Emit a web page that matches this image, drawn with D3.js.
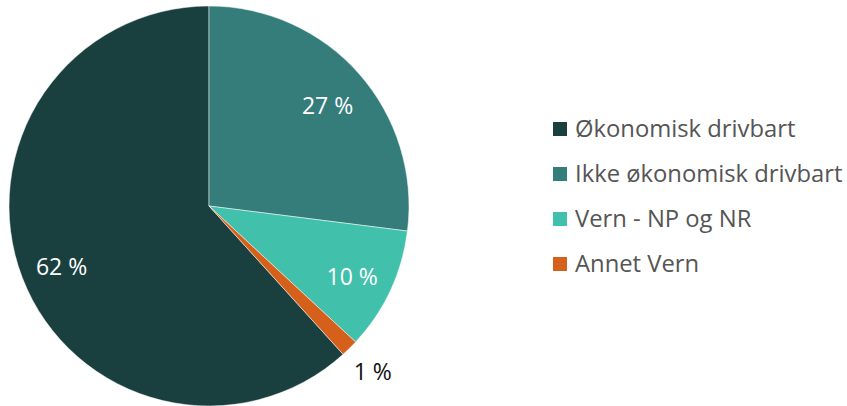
<!DOCTYPE html>
<html><head><meta charset="utf-8">
<script src="https://cdn.jsdelivr.net/npm/d3@7"></script>
<style>body{margin:0;background:#fff}svg{display:block}</style>
</head><body>
<svg id="chart" width="847" height="406"></svg>
<script>
const categories = ["Økonomisk drivbart", "Ikke økonomisk drivbart", "Vern - NP og NR", "Annet Vern"];
const values = [61.7, 27.0, 9.9, 1.4];
const labels = ["62 %", "27 %", "10 %", "1 %"];
const colors = ["#1a3f3f", "#347d7a", "#41c1ac", "#d5601b"];
const labelInside = [true, true, true, false];

const svg = d3.select("#chart");
const cx = 209, cy = 206, r = 200;
const total = d3.sum(values);
const start = -values[0] / total * 2 * Math.PI;
const pie = d3.pie().sort(null).startAngle(start).endAngle(start + 2 * Math.PI);
const arcs = pie(values);
const arc = d3.arc().innerRadius(0).outerRadius(r);
const g = svg.append("g").attr("transform", `translate(${cx},${cy})`);
g.selectAll("path").data(arcs).join("path")
  .attr("d", arc).attr("fill", (d, i) => colors[i])
  .attr("stroke", "#fff").attr("stroke-width", 0.5);

const inArc = d3.arc().innerRadius(158).outerRadius(158);
const outArc = d3.arc().innerRadius(233).outerRadius(233);
g.selectAll("text").data(arcs).join("text")
  .attr("transform", (d, i) => {
    const p = (labelInside[i] ? inArc : outArc).centroid(d);
    return `translate(${p[0]},${p[1] + (labelInside[i] ? 4 : 0)})`;
  })
  .attr("text-anchor", "middle").attr("dy", "0.35em")
  .attr("font-family", "'Open Sans', sans-serif").attr("font-size", 23)
  .attr("fill", (d, i) => labelInside[i] ? "#fff" : "#111")
  .text((d, i) => labels[i]);

const leg = svg.append("g").attr("transform", "translate(553,129)");
const item = leg.selectAll("g").data(categories).join("g")
  .attr("transform", (d, i) => `translate(0,${i * 45})`);
item.append("rect").attr("x", 0).attr("y", -7).attr("width", 14).attr("height", 14)
  .attr("fill", (d, i) => colors[i]);
item.append("text").attr("x", 22).attr("dy", "0.35em")
  .attr("font-family", "'Open Sans', sans-serif").attr("font-size", 23.8)
  .attr("fill", "#555").text(d => d);
</script>
</body></html>
